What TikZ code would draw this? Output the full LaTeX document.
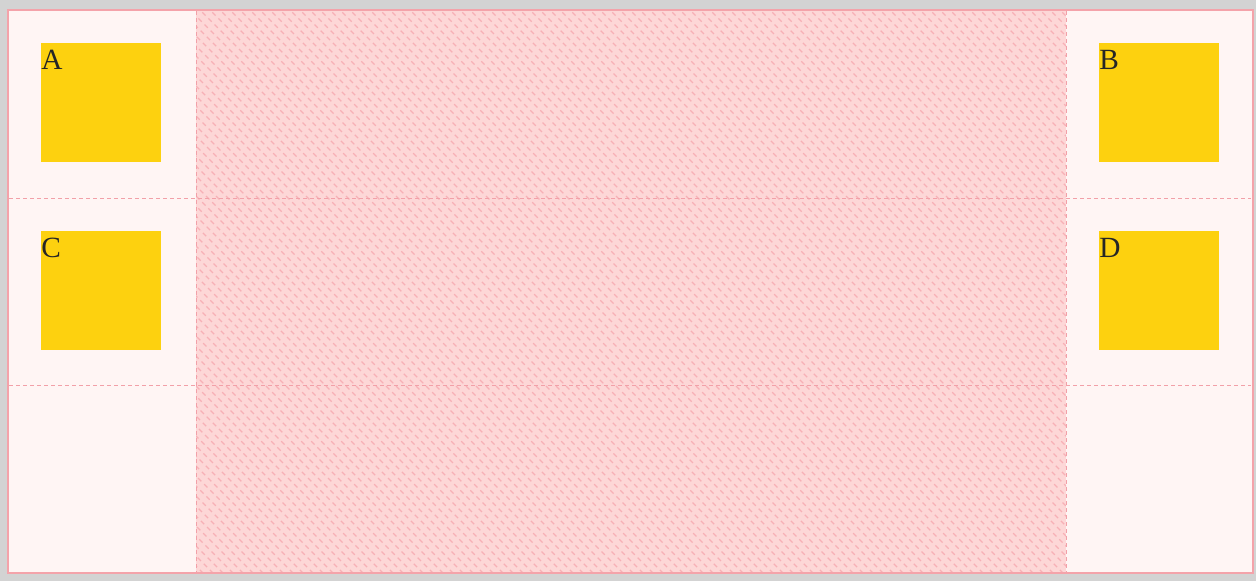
\documentclass[tikz,border=0pt]{standalone}
\usepackage{fontspec}
\setmainfont{Liberation Serif}
\definecolor{outergray}{HTML}{D3D3D3}
\definecolor{panelbg}{HTML}{FFF5F4}
\definecolor{panelborder}{HTML}{F4A3AA}
\definecolor{midfill}{HTML}{FDD7D7}
\definecolor{hatch}{HTML}{F7B0B6}
\definecolor{gridline}{HTML}{F2A0A8}
\definecolor{boxyellow}{HTML}{FDD10F}
\tikzset{
  cell/.style={fill=boxyellow, draw=none, minimum width=90pt, minimum height=89.25pt, inner sep=0pt, anchor=north west},
  celllabel/.style={font=\fontsize{22pt}{24pt}\selectfont, text=black!85, inner sep=0pt, anchor=base west},
  gridrule/.style={draw=gridline, line width=0.75pt, dash pattern=on 3pt off 2.25pt},
}
\begin{document}
\begin{tikzpicture}[x=0.75pt,y=-0.75pt]
\useasboundingbox (0,0) rectangle (1256,581);
\fill[outergray] (0,0) rectangle (1256,581);
\fill[panelbg] (8,10) rectangle (1253,573);
\fill[midfill] (196,11) rectangle (1066,572);
\begin{scope}
  \clip (196,11) rectangle (1066,572);
  \foreach \i in {-600,-590,...,1080}
    \draw[hatch, line width=1pt, dash pattern=on 3.5pt off 3pt] (\i,0) -- (\i+600,600);
\end{scope}
\draw[gridrule] (196,11) -- (196,572);
\draw[gridrule] (1066,11) -- (1066,572);
\draw[gridrule] (9,198) -- (1251,198);
\draw[gridrule] (9,385) -- (1251,385);
\draw[draw=panelborder, line width=1.5pt] (8,10) rectangle (1253,573);
\node[cell] (A) at (41,43) {};
\node[cell] (B) at (1099,43) {};
\node[cell] (C) at (41,231) {};
\node[cell] (D) at (1099,231) {};
\node[celllabel] (la) at (41,70) {A};
\node[celllabel] (lb) at (1099,70) {B};
\node[celllabel] (lc) at (41,257) {C};
\node[celllabel] (ld) at (1099,257) {D};
\end{tikzpicture}
\end{document}
